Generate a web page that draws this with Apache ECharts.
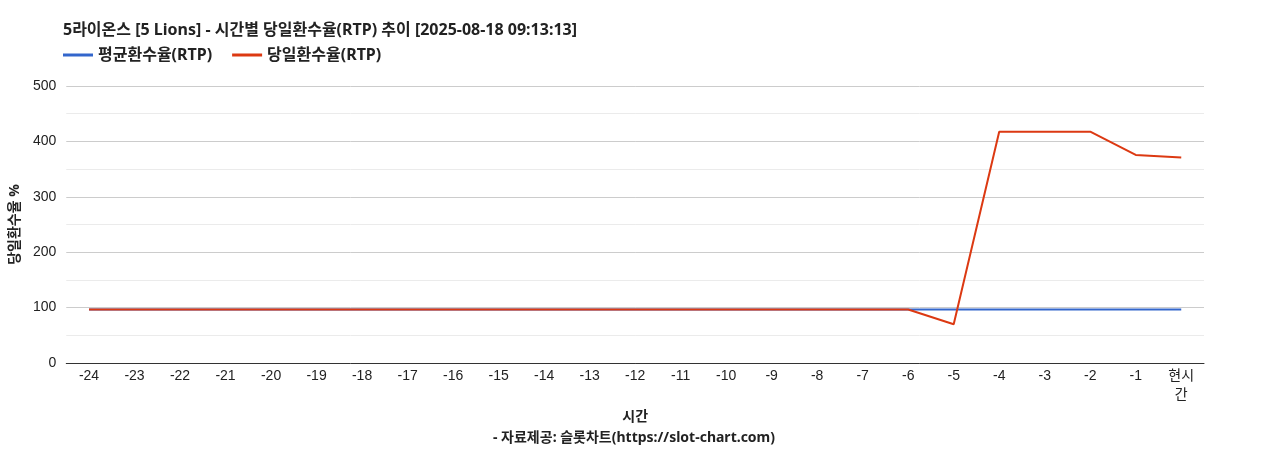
<!DOCTYPE html>
<html><head><meta charset="utf-8">
<script src="https://cdn.jsdelivr.net/npm/echarts@6/dist/echarts.min.js"></script>
<style>html,body{margin:0;padding:0;background:#fff}#c{width:1268px;height:450px}</style>
</head><body><div id="c"></div>
<script>
const categories = ['-24','-23','-22','-21','-20','-19','-18','-17','-16','-15','-14','-13','-12','-11','-10','-9','-8','-7','-6','-5','-4','-3','-2','-1','현시간'];
const avgRTP = [96.5,96.5,96.5,96.5,96.5,96.5,96.5,96.5,96.5,96.5,96.5,96.5,96.5,96.5,96.5,96.5,96.5,96.5,96.5,96.5,96.5,96.5,96.5,96.5,96.5];
const dayRTP = [96.5,96.5,96.5,96.5,96.5,96.5,96.5,96.5,96.5,96.5,96.5,96.5,96.5,96.5,96.5,96.5,96.5,96.5,96.5,70,417.5,417.5,417.5,375.5,371];
const titleText = '5라이온스 [5 Lions] - 시간별 당일환수율(RTP) 추이 [2025-08-18 09:13:13]';
const sourceText = '- 자료제공: 슬롯차트(https://slot-chart.com)';
const font = 'Arial, "Liberation Sans", "Noto Sans CJK KR", sans-serif';
const bfont = '"Noto Sans", "Noto Sans CJK KR", sans-serif';
const chart = echarts.init(document.getElementById('c'));
chart.setOption({
  animation:false,
  textStyle:{fontFamily:font},
  title:{text:titleText,left:63,top:22,padding:0,textStyle:{fontSize:16,fontWeight:'bold',color:'#222',fontFamily:bfont}},
  legend:{left:63,top:47,padding:0,itemWidth:30,itemHeight:3,itemGap:20,icon:'rect',
    textStyle:{fontSize:16,fontWeight:'bold',color:'#222',fontFamily:bfont},
    data:['평균환수율(RTP)','당일환수율(RTP)']},
  grid:{left:64,right:64,top:86,bottom:87},
  xAxis:{type:'category',data:categories,boundaryGap:true,
    axisLine:{lineStyle:{color:'#333'}},axisTick:{show:false},
    axisLabel:{fontSize:14,color:'#222',margin:4,lineHeight:19,fontFamily:font,
      formatter:v=>v==='현시간'?'현시\n간':v},
    name:'시간',nameLocation:'middle',nameGap:47,nameMoveOverlap:false,
    nameTextStyle:{fontSize:14,fontWeight:'bold',color:'#222',fontFamily:bfont,verticalAlign:'top'}},
  yAxis:{type:'value',min:0,max:500,interval:100,
    axisLine:{show:false},axisTick:{show:false},
    axisLabel:{fontSize:14,color:'#222',margin:10,fontFamily:font},
    splitLine:{lineStyle:{color:'#cccccc'}},
    minorTick:{show:false,splitNumber:2},
    minorSplitLine:{show:true,lineStyle:{color:'#ebebeb'}},
    name:'당일환수율 %',nameLocation:'middle',nameGap:42,nameRotate:90,
    nameTextStyle:{fontSize:14,fontWeight:'bold',color:'#222',fontFamily:bfont}},
  graphic:[{type:'text',left:'center',top:431,style:{text:sourceText,font:'bold 14px '+bfont,fill:'#222'}}],
  series:[
    {name:'평균환수율(RTP)',type:'line',data:avgRTP,symbol:'none',lineStyle:{width:2,color:'#3366cc'},itemStyle:{color:'#3366cc'}},
    {name:'당일환수율(RTP)',type:'line',data:dayRTP,symbol:'none',lineStyle:{width:2,color:'#dc3912'},itemStyle:{color:'#dc3912'}}
  ]
});
</script></body></html>
